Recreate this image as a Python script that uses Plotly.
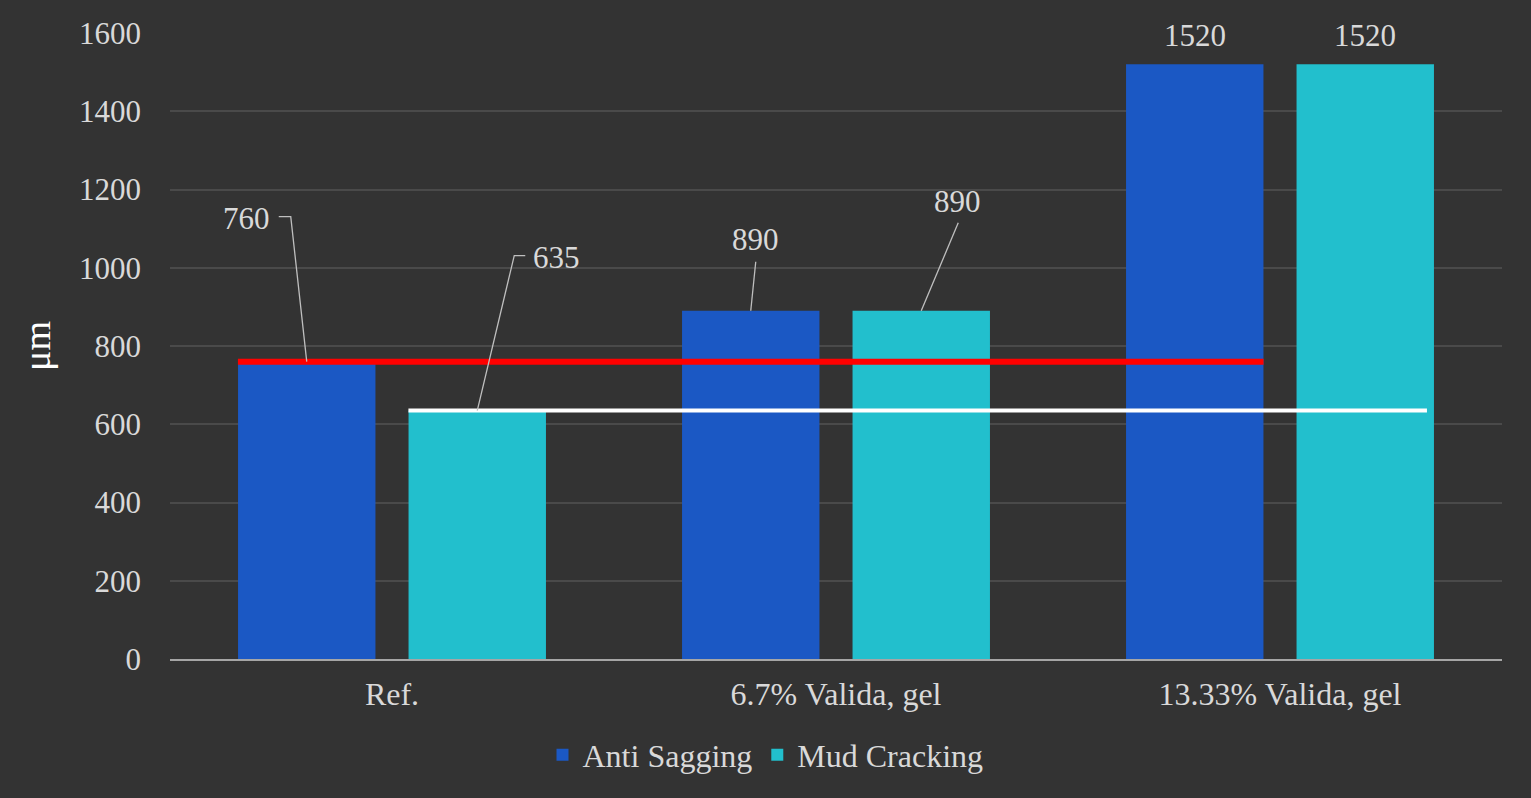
import plotly.graph_objects as go

categories = ["Ref.", "6.7% Valida, gel", "13.33% Valida, gel"]
anti_sagging = [760, 890, 1520]
mud_cracking = [635, 890, 1520]
y_ticks = [0, 200, 400, 600, 800, 1000, 1200, 1400, 1600]

FONT = "'Liberation Serif', 'Times New Roman', 'DejaVu Serif', serif"
TXT = "#d9d9d9"
OFF = 0.192   # bar centre offset from category centre (category units)
HALF = 0.155  # half bar width (category units)

fig = go.Figure()
fig.add_trace(go.Bar(name="Anti Sagging", x=categories, y=anti_sagging,
                     marker=dict(color="#1b58c4", line=dict(width=0))))
fig.add_trace(go.Bar(name="Mud Cracking", x=categories, y=mud_cracking,
                     marker=dict(color="#22bfcd", line=dict(width=0))))

# reference lines at Ref. values
fig.add_shape(type="line", xref="x", yref="y", x0=-OFF - HALF, x1=2 - OFF + HALF,
              y0=anti_sagging[0], y1=anti_sagging[0], line=dict(color="#ff0000", width=6), layer="above")
fig.add_shape(type="line", xref="x", yref="y", x0=OFF - HALF, x1=2.331,
              y0=mud_cracking[0], y1=mud_cracking[0], line=dict(color="#ffffff", width=4), layer="above")

# data labels: (label xshift, yshift, leader path in pixels relative to bar top, up positive)
label_layout = {
    (0, 0): (-60, 143, "M0,0 L-16,145 L-28,145"),
    (0, 1): (79, 153, "M0,0 L37,155 L48,155"),
    (1, 0): (5, 71, "M0,0 L5,49"),
    (1, 1): (36, 109, "M0,0 L37,88"),
}
for si, vals in enumerate([anti_sagging, mud_cracking]):
    for ci, v in enumerate(vals):
        xpos = ci + (-OFF if si == 0 else OFF)
        if (ci, si) in label_layout:
            xs, ys, path = label_layout[(ci, si)]
            fig.add_shape(type="path", xref="x", yref="y", xsizemode="pixel", ysizemode="pixel",
                          xanchor=xpos, yanchor=v, path=path,
                          line=dict(color="#bfbfbf", width=1.3), layer="above")
        else:
            xs, ys = 0, 29
        fig.add_annotation(x=xpos, y=v, xref="x", yref="y", text=str(v), showarrow=False,
                           xshift=xs, yshift=ys, font=dict(family=FONT, size=31, color=TXT))

fig.update_layout(
    width=1531, height=798,
    paper_bgcolor="#333333", plot_bgcolor="rgba(0,0,0,0)",
    margin=dict(l=170, r=29, t=33, b=139),
    barmode="group", bargap=0.232, bargroupgap=0.194,
    font=dict(family=FONT, size=31, color=TXT),
    showlegend=True,
    legend=dict(orientation="h", xref="container", yref="container", x=0.5, xanchor="center",
                y=0.054, yanchor="middle", font=dict(family=FONT, size=32, color=TXT),
                bgcolor="rgba(0,0,0,0)", itemwidth=30),
    xaxis=dict(range=[-0.5, 2.5], showgrid=False, showline=True, linecolor="#a6a6a6", linewidth=2,
               ticks="", tickfont=dict(family=FONT, size=32, color=TXT), ticklabelstandoff=6),
    yaxis=dict(range=[0, 1600], tickvals=y_ticks, showgrid=True, gridcolor="#4a4a4a", gridwidth=1.5,
               zeroline=False, showline=False, ticks="", ticklabelstandoff=28,
               tickfont=dict(family=FONT, size=31, color=TXT),
               title=dict(text="μm", font=dict(family=FONT, size=38, color="#ffffff"), standoff=16)),
)

fig.write_html("out.html")
